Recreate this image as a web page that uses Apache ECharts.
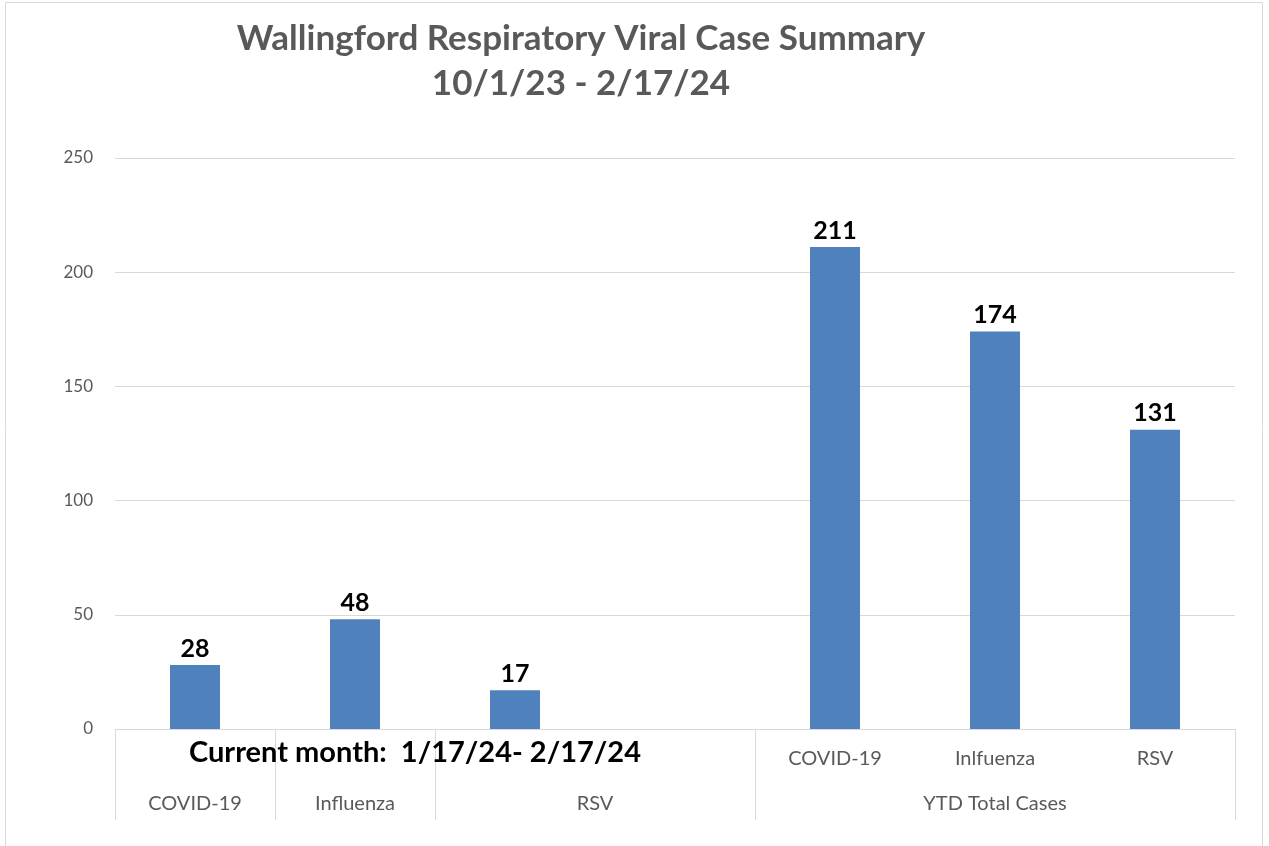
<!DOCTYPE html>
<html>
<head>
<meta charset="utf-8">
<script src="https://cdn.jsdelivr.net/npm/echarts@6/dist/echarts.min.js"></script>
<style>
  html, body { margin: 0; padding: 0; background: #fff; }
  #chart { width: 1269px; height: 846px; }
</style>
</head>
<body>
<div id="chart"></div>
<script>
// data
const categories = ['COVID-19', 'Influenza', 'RSV', '', 'COVID-19', 'Inlfuenza', 'RSV'];
const topRowLabels = ['', '', '', '', 'COVID-19', 'Inlfuenza', 'RSV'];
const caseCounts = [28, 48, 17, null, 211, 174, 131];
// group labels sit on a 15-point scale (half-category steps)
const groupLabels = ['', 'COVID-19', '', 'Influenza', '', '', 'RSV', '', '', '', '', 'YTD Total Cases', '', '', ''];
const groupBoundaries = [0, 2, 4, 8, 14];
const yTicks = [0, 50, 100, 150, 200, 250];

const FONT = 'Lato';
const GRAY = '#595959';
const LINE = '#d9d9d9';

const chart = echarts.init(document.getElementById('chart'));

const option = {
    animation: false,
    textStyle: { fontFamily: FONT },
    title: [
        {
            text: 'Wallingford Respiratory Viral Case Summary\n10/1/23 - 2/17/24',
            left: 576,
            top: 11,
            textAlign: 'center',
            textStyle: { fontFamily: FONT, fontSize: 35, fontWeight: 'bold', color: GRAY, lineHeight: 45 }
        },
        {
            text: 'Current month:  1/17/24- 2/17/24',
            left: 410,
            top: 733,
            textAlign: 'center',
            textStyle: { fontFamily: FONT, fontSize: 29, fontWeight: 'bold', color: '#000' }
        }
    ],
    graphic: [{
        type: 'rect',
        shape: { x: 5.5, y: 2.5, width: 1257, height: 860 },
        style: { fill: 'none', stroke: LINE, lineWidth: 1 },
        silent: true,
        z: -10
    }],
    grid: { left: 115, right: 34, top: 158, bottom: 117, containLabel: false },
    xAxis: [
        {
            type: 'category',
            data: categories,
            position: 'bottom',
            axisLine: { lineStyle: { color: LINE } },
            axisTick: { show: false },
            axisLabel: {
                interval: 0,
                margin: 20,
                color: GRAY,
                fontSize: 20,
                formatter: (v, i) => topRowLabels[i]
            }
        },
        {
            type: 'category',
            data: groupLabels,
            boundaryGap: false,
            position: 'bottom',
            axisLine: { show: false },
            axisTick: {
                show: true,
                length: 91,
                lineStyle: { color: LINE },
                interval: (i) => groupBoundaries.indexOf(i) >= 0
            },
            axisLabel: { interval: 0, margin: 65, color: GRAY, fontSize: 20 }
        }
    ],
    yAxis: {
        type: 'value',
        min: yTicks[0],
        max: yTicks[yTicks.length - 1],
        interval: 50,
        axisLine: { show: false },
        axisTick: { show: false },
        axisLabel: { color: GRAY, fontSize: 17, margin: 22 },
        splitLine: { lineStyle: { color: LINE } }
    },
    series: [{
        name: 'Cases',
        type: 'bar',
        xAxisIndex: 0,
        data: caseCounts,
        barWidth: 50,
        itemStyle: { color: '#4f81bd' },
        label: {
            show: true,
            position: 'top',
            distance: 4,
            color: '#000',
            fontFamily: FONT,
            fontSize: 25,
            fontWeight: 'bold'
        }
    }]
};

chart.setOption(option);
</script>
</body>
</html>
